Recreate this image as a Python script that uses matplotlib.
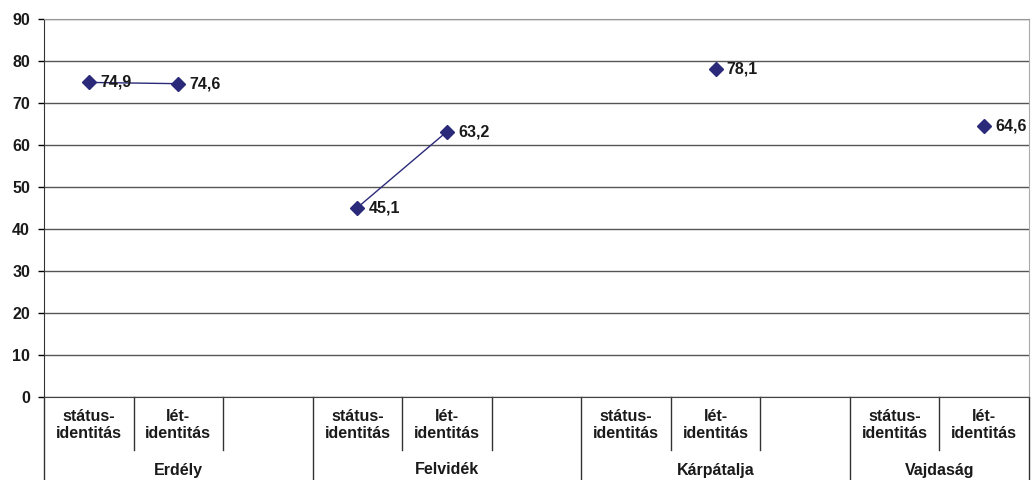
import numpy as np
import matplotlib.pyplot as plt
from matplotlib.transforms import blended_transform_factory

plt.rcParams['font.family'] = ['Liberation Sans', 'DejaVu Sans']

groups = ["Erdély", "Felvidék", "Kárpátalja", "Vajdaság"]
categories = ["státus-\nidentitás", "lét-\nidentitás", "",
              "státus-\nidentitás", "lét-\nidentitás", "",
              "státus-\nidentitás", "lét-\nidentitás", "",
              "státus-\nidentitás", "lét-\nidentitás"]
values = [74.9, 74.6, None,
          45.1, 63.2, None,
          None, 78.1, None,
          None, 64.6]
labels = ["74,9", "74,6", "", "45,1", "63,2", "", "", "78,1", "", "", "64,6"]
group_size = 3

W, H = 1032, 480
fig = plt.figure(figsize=(W / 100, H / 100), dpi=100)
ax = fig.add_axes([44 / W, (H - 397) / H, (1029 - 44) / W, (397 - 19) / H])

fs = 11.5
x = np.arange(len(categories)) + 0.5
y = np.array([np.nan if v is None else v for v in values])
navy = "#2b2a7a"
ax.plot(x, y, color=navy, lw=1, marker="D", ms=7.5, zorder=3)
for xi, yi, lab in zip(x, y, labels):
    if lab:
        ax.annotate(lab, (xi, yi), xytext=(8, 0), textcoords="offset points",
                    ha="left", va="center", fontsize=fs, fontweight="bold",
                    color="#1a1a1a", zorder=4, annotation_clip=False)

ax.set_xlim(0, len(categories))
ax.set_ylim(0, 90)
ax.set_yticks(range(0, 91, 10))
ax.tick_params(axis="y", length=4, width=1, pad=6, labelsize=fs)
for t in ax.get_yticklabels():
    t.set_fontweight("bold")
    t.set_color("#1a1a1a")
ax.set_xticks([])
ax.grid(axis="y", color="#555555", lw=1)
ax.set_axisbelow(True)
ax.spines["left"].set_color("#333333")
ax.spines["bottom"].set_color("#444444")
ax.spines["top"].set_color("#999999")
ax.spines["right"].set_color("#aaaaaa")

# category axis: separators, category labels and group labels
trans = blended_transform_factory(ax.transData, ax.transAxes)
px = 1 / (397 - 19)
for b in range(len(categories) + 1):
    if b % group_size == 0 or b == len(categories):
        ax.plot([b, b], [0, -83 * px], color="#333333", lw=1,
                transform=trans, clip_on=False)
    else:
        ax.plot([b, b], [0, -53 * px], color="#333333", lw=1,
                transform=trans, clip_on=False)
for xi, cat in zip(x, categories):
    ax.text(xi, -28 * px, cat, transform=trans, ha="center", va="center",
            fontsize=fs, fontweight="bold", color="#1a1a1a", linespacing=1.15)
for g, name in enumerate(groups):
    start = g * group_size
    end = min(start + group_size, len(categories))
    ax.text((start + end) / 2, -73 * px, name, transform=trans, ha="center",
            va="center", fontsize=fs, fontweight="bold", color="#1a1a1a")

fig.savefig("out.png", dpi=100)
